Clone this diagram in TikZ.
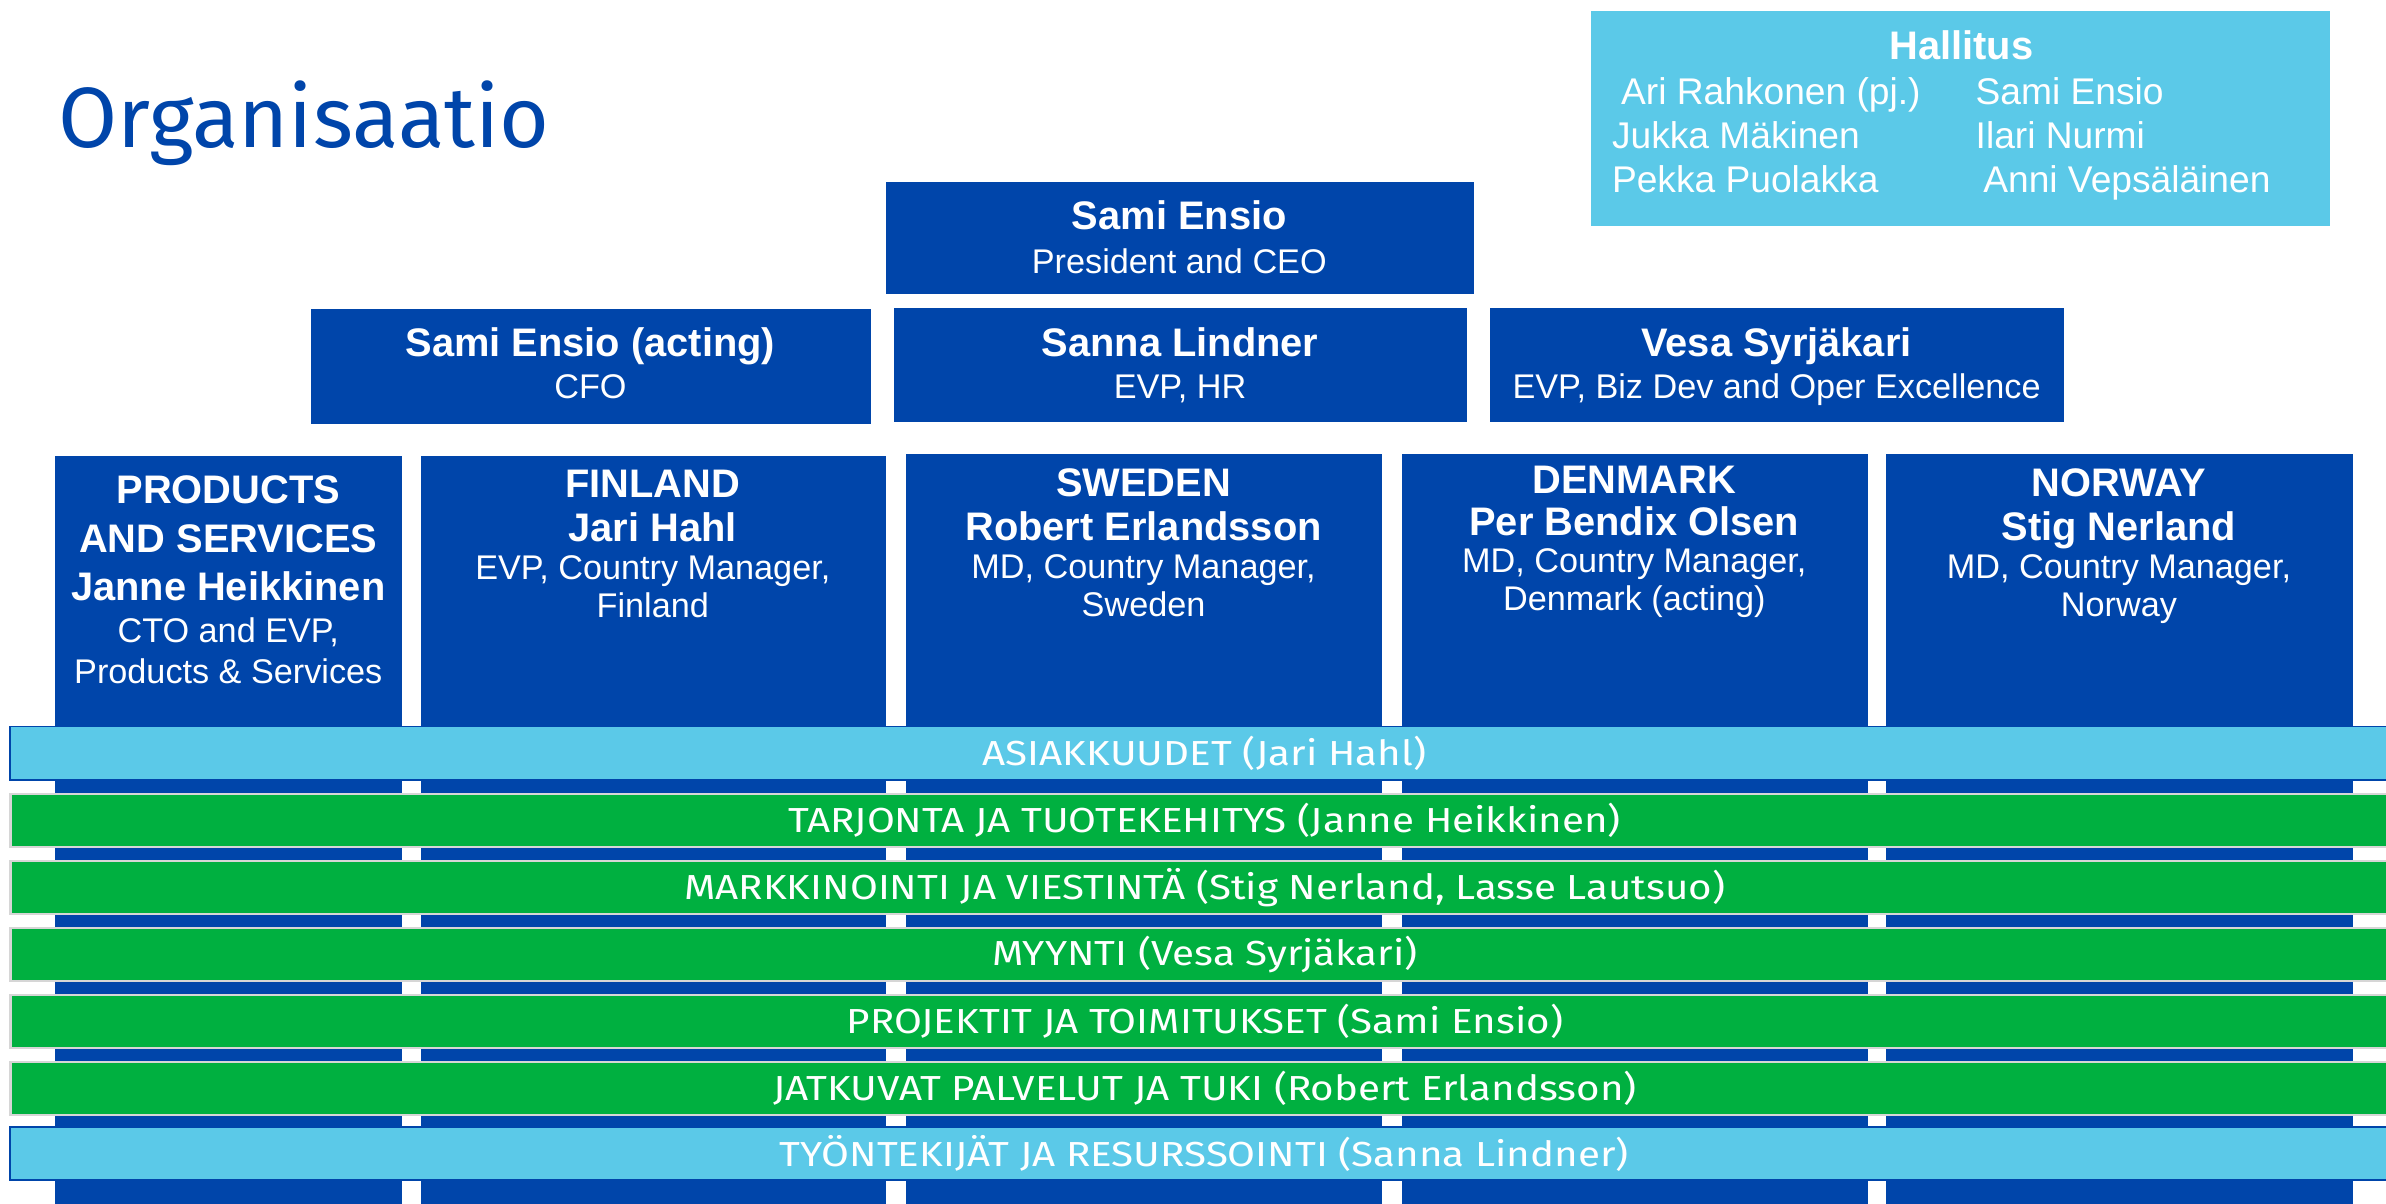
\documentclass[tikz,border=0pt]{standalone}
\usepackage{fontspec}
\setmainfont{Liberation Sans}
\newfontfamily\bandfamily[FakeStretch=1.16]{Fira Sans}
\newfontfamily\headfamily{Fira Sans}
\usepackage{tikz}
\usetikzlibrary{positioning}

\definecolor{orgblue}{RGB}{0,69,170}
\definecolor{boardblue}{RGB}{91,201,232}
\definecolor{teamgreen}{RGB}{0,176,64}
\definecolor{edgegrey}{RGB}{214,214,214}

\newcommand{\namefont}{\fontsize{14.9}{15.9}\selectfont\bfseries}
\newcommand{\rolefont}{\fontsize{12.8}{13.7}\selectfont\mdseries}
\newcommand{\boardfont}{\fontsize{13.9}{16}\selectfont}

\begin{document}
\begin{tikzpicture}[x=0.02cm,y=-0.02cm,
  wh/.style 2 args={minimum width=#1*0.02cm,minimum height=#2*0.02cm},
  unit/.style={rectangle,fill=orgblue,inner sep=0pt,anchor=north west},
  boxtext/.style={text=white,align=center,anchor=base,inner sep=0pt,font=\namefont},
  member/.style={text=white,anchor=base west,inner sep=0pt,font=\boardfont},
  band/.style={rectangle,inner sep=0pt,anchor=north west,wh={1570}{35},text=white,
    font={\bandfamily\fontsize{13}{15}\selectfont}},
  blueband/.style={band,fill=boardblue,draw=orgblue,line width=0.6pt},
  greenband/.style={band,fill=teamgreen,draw=edgegrey,line width=0.9pt}]
\useasboundingbox (0,0) rectangle (1568,791.2);

% title
\node[anchor=base west,inner sep=0pt,text=orgblue,font={\headfamily\fontsize{32}{36}\selectfont}] (title) at (38,97) {Organisaatio};

% board
\node[rectangle,fill=boardblue,inner sep=0pt,anchor=north west,wh={486}{141}] (board) at (1045,7) {};
\node[boxtext] (boardhead) at (1289,39.4) {Hallitus};
\node[member] (m1) at (1065,68.7) {Ari Rahkonen (pj.)};
\node[member] (m2) at (1298,68.7) {Sami Ensio};
\node[member] (m3) at (1059,97.7) {Jukka Mäkinen};
\node[member] (m4) at (1298,97.7) {Ilari Nurmi};
\node[member] (m5) at (1059,126.7) {Pekka Puolakka};
\node[member] (m6) at (1303,126.7) {Anni Vepsäläinen};

% management (text nodes sit on the baseline of their last line)
\node[unit,wh={386}{74}] (ceo) at (582,119) {};
\node[boxtext] (ceotext) at (775,180) {Sami Ensio\\[0.6pt]{\rolefont President and CEO}};
\node[unit,wh={368}{75}] (cfo) at (204,203) {};
\node[boxtext] (cfotext) at (388,262) {Sami Ensio (acting)\\{\rolefont CFO}};
\node[unit,wh={377}{75}] (hr) at (587,202) {};
\node[boxtext] (hrtext) at (775.5,262) {Sanna Lindner\\{\rolefont EVP, HR}};
\node[unit,wh={377}{75}] (biz) at (979,202) {};
\node[boxtext] (biztext) at (1167.5,262) {Vesa Syrjäkari\\{\rolefont EVP, Biz Dev and Oper Excellence}};

% units
\node[unit,wh={228}{494}] (prod) at (36,299) {};
\node[unit,wh={306}{494}] (fin) at (276,299) {};
\node[unit,wh={313}{495}] (swe) at (595,298) {};
\node[unit,wh={306}{495}] (den) at (921,298) {};
\node[unit,wh={307}{495}] (nor) at (1239,298) {};

\node[boxtext,font=\fontsize{14.9}{18.2}\selectfont\bfseries] (prodtext) at (150,449)
  {PRODUCTS\\AND SERVICES\\Janne Heikkinen\\[-2.8pt]{\rolefont CTO and EVP,}\\[-2.8pt]{\rolefont Products \& Services}};
\node[boxtext] (fintext) at (429,406) {FINLAND\\[0.6pt]Jari Hahl\\[-1.7pt]{\rolefont EVP, Country Manager,}\\[-1.7pt]{\rolefont Finland}};
\node[boxtext] (swetext) at (751.5,405) {SWEDEN\\[0.6pt]Robert Erlandsson\\[-1.7pt]{\rolefont MD, Country Manager,}\\[-1.7pt]{\rolefont Sweden}};
\node[boxtext] (dentext) at (1074,401) {DENMARK\\Per Bendix Olsen\\[-2.2pt]{\rolefont MD, Country Manager,}\\[-1.7pt]{\rolefont Denmark (acting)}};
\node[boxtext] (nortext) at (1392.5,405) {NORWAY\\[0.6pt]Stig Nerland\\[-1.7pt]{\rolefont MD, Country Manager,}\\[-1.7pt]{\rolefont Norway}};

% processes
\node[blueband] (b1) at (6,477) {ASIAKKUUDET (Jari Hahl)};
\node[greenband] (b2) at (6,521) {TARJONTA JA TUOTEKEHITYS (Janne Heikkinen)};
\node[greenband] (b3) at (6,565) {MARKKINOINTI JA VIESTINTÄ (Stig Nerland, Lasse Lautsuo)};
\node[greenband] (b4) at (6,609) {MYYNTI (Vesa Syrjäkari)};
\node[greenband] (b5) at (6,653) {PROJEKTIT JA TOIMITUKSET (Sami Ensio)};
\node[greenband] (b6) at (6,697) {JATKUVAT PALVELUT JA TUKI (Robert Erlandsson)};
\node[blueband] (b7) at (6,740) {TYÖNTEKIJÄT JA RESURSSOINTI (Sanna Lindner)};
\end{tikzpicture}
\end{document}
